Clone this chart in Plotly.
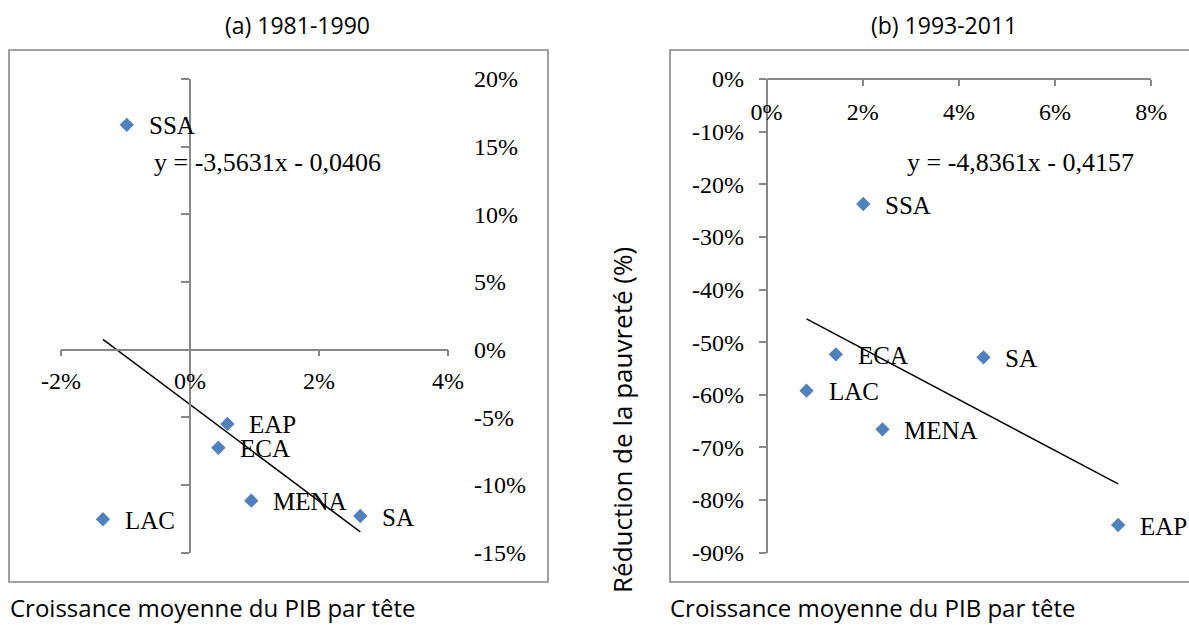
import plotly.graph_objects as go

# ---- data -------------------------------------------------------------
# (a) 1981-1990: average GDP-per-capita growth vs. poverty reduction
regions_a = ["SSA", "EAP", "ECA", "MENA", "SA", "LAC"]
growth_a = [-0.0098, 0.0058, 0.0044, 0.0095, 0.0264, -0.0135]
reduction_a = [0.166, -0.0549, -0.0725, -0.1116, -0.1229, -0.1253]
slope_a, intercept_a = -3.5631, -0.0406

# (b) 1993-2011
regions_b = ["SSA", "ECA", "SA", "LAC", "MENA", "EAP"]
growth_b = [0.0201, 0.0144, 0.0451, 0.0083, 0.0241, 0.0731]
reduction_b = [-0.2375, -0.5231, -0.5288, -0.5922, -0.6656, -0.8474]
slope_b, intercept_b = -4.8361, -0.4157

# tick values / labels
xticks_a = [-0.02, 0.0, 0.02, 0.04]
xtext_a = ["-2%", "0%", "2%", "4%"]
yticks_a = [-0.15, -0.10, -0.05, 0.0, 0.05, 0.10, 0.15, 0.20]
ytext_a = ["-15%", "-10%", "-5%", "0%", "5%", "10%", "15%", "20%"]
xticks_b = [0.0, 0.02, 0.04, 0.06, 0.08]
xtext_b = ["0%", "2%", "4%", "6%", "8%"]
yticks_b = [0.0, -0.1, -0.2, -0.3, -0.4, -0.5, -0.6, -0.7, -0.8, -0.9]
ytext_b = ["0%", "-10%", "-20%", "-30%", "-40%", "-50%", "-60%", "-70%", "-80%", "-90%"]

titles = ["(a) 1981-1990", "(b) 1993-2011"]
x_title = "Croissance moyenne du PIB par tête"
y_title = "Réduction de la pauvreté (%)"

# ---- styling ----------------------------------------------------------
W, H = 1189, 625
GRAY = "#878787"
BLUE = "#4F81BD"
SERIF = "Liberation Serif"
SANS = "Open Sans"
TICK_FS = 24
LABEL_FS = 25


def px(x):
    return x / W


def py(y):
    return 1 - y / H


def equation(slope, intercept):
    sign = "-" if intercept < 0 else "+"
    txt = f"y = {slope:.4f}x {sign} {abs(intercept):.4f}"
    return txt.replace(".", ",")


fig = go.Figure()

# scatter points + linear trend lines
for xs, ys, slope, icpt, xa, ya in [
    (growth_a, reduction_a, slope_a, intercept_a, "x", "y"),
    (growth_b, reduction_b, slope_b, intercept_b, "x2", "y2"),
]:
    fig.add_trace(go.Scatter(
        x=xs, y=ys, mode="markers", xaxis=xa, yaxis=ya,
        marker=dict(symbol="diamond", size=11, color=BLUE, line=dict(width=0)),
        cliponaxis=False, hoverinfo="skip", showlegend=False,
    ))
    x0, x1 = min(xs), max(xs)
    fig.add_trace(go.Scatter(
        x=[x0, x1], y=[slope * x0 + icpt, slope * x1 + icpt],
        mode="lines", xaxis=xa, yaxis=ya,
        line=dict(color="black", width=1.5),
        cliponaxis=False, hoverinfo="skip", showlegend=False,
    ))

annotations = []
# point labels
for names, xs, ys, xr, yr in [
    (regions_a, growth_a, reduction_a, "x", "y"),
    (regions_b, growth_b, reduction_b, "x2", "y2"),
]:
    for n, xv, yv in zip(names, xs, ys):
        annotations.append(dict(
            x=xv, y=yv, xref=xr, yref=yr, text=n, showarrow=False,
            xanchor="left", yanchor="middle", xshift=21, yshift=-1,
            borderpad=0,
            font=dict(family=SERIF, size=LABEL_FS, color="black"),
        ))

# trend equations
annotations.append(dict(
    x=px(152), y=py(163), xref="paper", yref="paper", showarrow=False,
    text=equation(slope_a, intercept_a), xanchor="left", yanchor="middle",
    font=dict(family=SERIF, size=26, color="black"),
))
annotations.append(dict(
    x=px(905), y=py(163), xref="paper", yref="paper", showarrow=False,
    text=equation(slope_b, intercept_b), xanchor="left", yanchor="middle",
    font=dict(family=SERIF, size=26, color="black"),
))

# panel titles
for t, cx in zip(titles, [297, 944]):
    annotations.append(dict(
        x=px(cx), y=py(25), xref="paper", yref="paper", showarrow=False,
        text=t, xanchor="center", yanchor="middle",
        font=dict(family=SANS, size=23, color="black"),
    ))

# axis titles
for lx in [9, 669]:
    annotations.append(dict(
        x=px(lx), y=py(607), xref="paper", yref="paper", showarrow=False,
        text=x_title, xanchor="left", yanchor="middle", borderpad=0,
        font=dict(family=SANS, size=24, color="black"),
    ))
annotations.append(dict(
    x=px(622), y=py(420), xref="paper", yref="paper", showarrow=False,
    text=y_title, textangle=-90, xanchor="center", yanchor="middle",
    font=dict(family=SANS, size=26, color="black"),
))

# chart-area frames
shapes = [
    dict(type="rect", xref="paper", yref="paper",
         x0=px(9), x1=px(548), y0=py(582), y1=py(50),
         line=dict(color=GRAY, width=1.6), layer="below"),
    dict(type="rect", xref="paper", yref="paper",
         x0=px(670), x1=px(1200), y0=py(582), y1=py(50),
         line=dict(color=GRAY, width=1.6), layer="below"),
]

axis_common = dict(
    showgrid=False, zeroline=False, showline=True, automargin=False,
    linecolor=GRAY, linewidth=1.5, tickcolor=GRAY, tickwidth=1.5,
    ticks="outside", tickfont=dict(family=SERIF, size=TICK_FS, color="black"),
    fixedrange=True,
)

fig.update_layout(
    width=W, height=H,
    margin=dict(l=0, r=0, t=0, b=0, pad=0, autoexpand=False),
    paper_bgcolor="white", plot_bgcolor="rgba(0,0,0,0)",
    showlegend=False,
    xaxis=dict(
        **axis_common, domain=[px(61), px(448)], range=[-0.02, 0.04],
        anchor="free", position=py(349.6),
        tickvals=xticks_a, ticktext=xtext_a, ticklen=6, ticklabelstandoff=4,
    ),
    yaxis=dict(
        **axis_common, domain=[py(552.7), py(78.8)], range=[-0.15, 0.20],
        anchor="free", position=px(190),
        tickvals=yticks_a, ticktext=ytext_a, ticklen=8,
        ticklabelposition="inside", ticklabelstandoff=285,
        ticklabeloverflow="allow",
    ),
    xaxis2=dict(
        **axis_common, domain=[px(766.6), px(1151.3)], range=[0, 0.08],
        anchor="free", position=py(79), side="bottom",
        tickvals=xticks_b, ticktext=xtext_b, ticklen=6, ticklabelstandoff=5,
    ),
    yaxis2=dict(
        **axis_common, domain=[py(552.7), py(79)], range=[-0.9, 0],
        anchor="free", position=px(766.6),
        tickvals=yticks_b, ticktext=ytext_b, ticklen=7, ticklabelstandoff=10,
    ),
    annotations=annotations,
    shapes=shapes,
)

fig.write_html("out.html", config={"displayModeBar": False})
